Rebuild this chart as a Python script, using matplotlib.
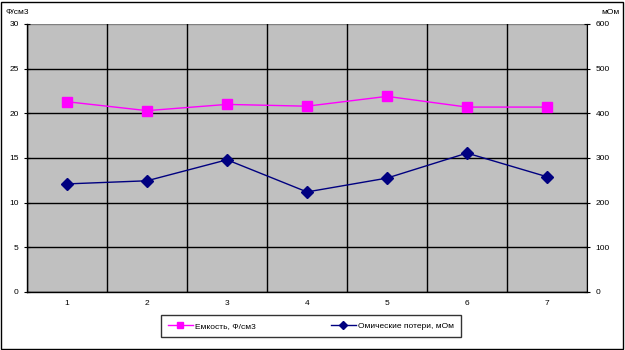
import numpy as np
import matplotlib.pyplot as plt
from matplotlib.patches import Rectangle

# data
points = [1, 2, 3, 4, 5, 6, 7]
capacity = [21.3, 20.3, 21.0, 20.8, 21.9, 20.7, 20.7]
ohmic_loss = [242, 249, 296, 224, 255, 311, 258]

left_ticks = [0, 5, 10, 15, 20, 25, 30]
right_ticks = [0, 100, 200, 300, 400, 500, 600]

plt.rcParams['font.family'] = ['Liberation Sans', 'DejaVu Sans']
plt.rcParams['font.size'] = 6

fig = plt.figure(figsize=(6.25, 3.5), dpi=100)
ax = fig.add_axes([27 / 625, 58 / 350, 560 / 625, 268 / 350])
ax.set_facecolor('#c0c0c0')

x = np.arange(len(points))
ax.set_xlim(-0.5, len(points) - 0.5)
ax.set_ylim(0, 30)
ax.set_yticks(left_ticks)
ax.set_xticks(x)
ax.set_xticklabels([str(p) for p in points])

# vertical separators between categories, horizontal grid
for b in np.arange(-0.5, len(points), 1.0):
    ax.axvline(b, color='black', lw=1, zorder=1)
ax.yaxis.grid(True, color='black', lw=1)
ax.set_axisbelow(True)
ax.get_ygridlines()[-1].set_color('#808080')

for s in ax.spines.values():
    s.set_color('black')
    s.set_linewidth(1)
ax.spines['top'].set_visible(False)
ax.spines['right'].set_visible(False)

ax.tick_params(axis='x', length=0, pad=6)
ax.tick_params(axis='y', length=4, direction='inout', pad=4)

l1, = ax.plot(x, capacity, color='#ff00ff', marker='s', ms=7, lw=1,
              label='Емкость, Ф/см3', zorder=3)

ax2 = ax.twinx()
ax2.set_ylim(0, 600)
ax2.set_yticks(right_ticks)
ax2.tick_params(axis='y', length=4, direction='inout', pad=4)
for s in ax2.spines.values():
    s.set_visible(False)
ax2.spines['right'].set_visible(True)
ax2.spines['right'].set_color('black')
l2, = ax2.plot(x, ohmic_loss, color='#000080', marker='D', ms=6, lw=1,
               label='Омические потери, мОм', zorder=3)

fig.text(5 / 625, 1 - 12 / 350, 'Ф/см3', va='center')
fig.text(1 - 5 / 625, 1 - 12 / 350, 'мОм', ha='right', va='center')

leg = fig.legend([l1, l2], ['Емкость, Ф/см3', 'Омические потери, мОм'],
                 loc='center', bbox_to_anchor=(311 / 625, 1 - 326 / 350),
                 ncol=2, frameon=True, fancybox=False, edgecolor='black',
                 columnspacing=9, handlelength=3, borderpad=0.8,
                 markerscale=0.7, handletextpad=0.3)
leg.get_frame().set_linewidth(1)

# outer border of the chart
fig.patches.append(Rectangle((1 / 625, 1 / 350), 622 / 625, 347 / 350,
                             transform=fig.transFigure, fill=False,
                             edgecolor='black', lw=1))

fig.savefig('out.png', dpi=100)
